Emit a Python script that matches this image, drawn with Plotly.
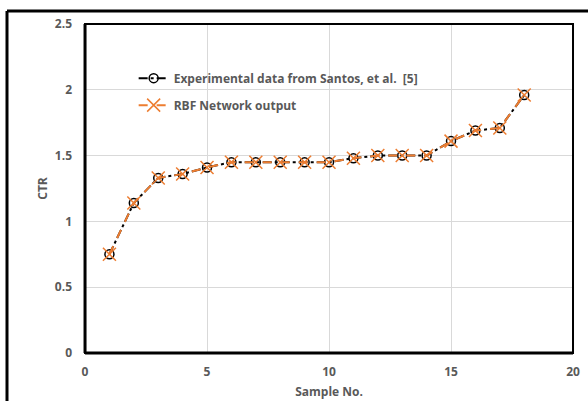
import plotly.graph_objects as go

sample_no = list(range(1, 19))
experimental = [0.75, 1.14, 1.33, 1.36, 1.41, 1.45, 1.45, 1.45, 1.45, 1.45,
                1.48, 1.50, 1.50, 1.50, 1.61, 1.69, 1.71, 1.96]
rbf_output = [0.75, 1.14, 1.33, 1.36, 1.41, 1.45, 1.45, 1.45, 1.45, 1.45,
              1.48, 1.50, 1.50, 1.50, 1.61, 1.69, 1.71, 1.96]
x_ticks = [0, 5, 10, 15, 20]
y_ticks = [0, 0.5, 1, 1.5, 2, 2.5]

GRAY = "#595959"
FONT = "Open Sans"

fig = go.Figure()
fig.add_trace(go.Scatter(
    x=sample_no, y=experimental, mode="lines+markers",
    name="Experimental data from Santos, et al.  [5]",
    legendgroup="a",
    line=dict(color="black", width=2, dash="dashdot"),
    marker=dict(symbol="circle-open", size=9, color="black", line=dict(width=1.5)),
))
fig.add_trace(go.Scatter(
    x=sample_no, y=rbf_output, mode="lines+markers",
    name="RBF Network output",
    legendgroup="b",
    line=dict(color="#ED7D31", width=2, dash="dash"),
    marker=dict(symbol="x-thin-open", size=13, color="#ED7D31", line=dict(width=1.5, color="#ED7D31")),
))

axis_common = dict(
    showgrid=True, gridcolor="#D9D9D9", gridwidth=1,
    zeroline=False, showline=False, automargin=False,
    ticks="", tickfont=dict(family=FONT, size=12, color=GRAY, weight="bold"),
)
fig.update_xaxes(range=[0, 20], tickvals=x_ticks, ticklabelstandoff=10,
                 domain=[0.1343, 0.9742],
                 title=dict(text="Sample No.", font=dict(family=FONT, size=12, color=GRAY, weight="bold"), standoff=8),
                 **axis_common)
fig.update_yaxes(range=[0, 2.5], tickvals=y_ticks, ticklabelstandoff=12,
                 domain=[0.1231, 0.9667],
                 title=dict(text="CTR", font=dict(family=FONT, size=12, color=GRAY, weight="bold"), standoff=4),
                 **axis_common)

fig.update_layout(
    width=588, height=401,
    margin=dict(l=7, r=0, t=11, b=0),
    plot_bgcolor="white", paper_bgcolor="white",
    showlegend=True,
    legend=dict(x=0.218, y=0.865, xanchor="left", yanchor="top", itemwidth=30,
                bgcolor="rgba(0,0,0,0)", traceorder="grouped", tracegroupgap=8,
                font=dict(family=FONT, size=12, color=GRAY, weight="bold")),
    shapes=[
        # plot-area frame
        dict(type="rect", xref="x domain", yref="y domain", x0=0, y0=0, x1=1, y1=1,
             line=dict(color="black", width=2), layer="above"),
        dict(type="line", xref="x domain", yref="y domain", x0=0, y0=0, x1=1, y1=0,
             line=dict(color="black", width=3), layer="above"),
        dict(type="line", xref="x domain", yref="y domain", x0=0, y0=0, x1=0, y1=1,
             line=dict(color="black", width=3), layer="above"),
        # outer figure frame (left and top edges)
        dict(type="line", xref="paper", yref="paper", x0=0, y0=1, x1=0, y1=0,
             line=dict(color="black", width=3)),
        dict(type="line", xref="paper", yref="paper", x0=0, y0=1, x1=1, y1=1,
             line=dict(color="black", width=3)),
    ],
)

fig.write_html("out.html", config={"displayModeBar": False},
               post_script="document.body.style.margin='0';document.body.style.overflow='hidden';")
